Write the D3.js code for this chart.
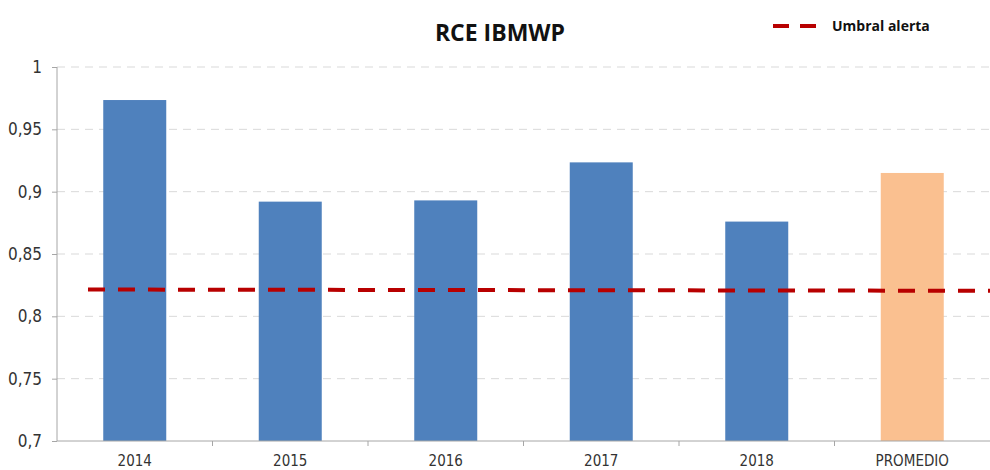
<!DOCTYPE html>
<html>
<head>
<meta charset="utf-8">
<script src="https://cdn.jsdelivr.net/npm/d3@7"></script>
<style>
body { margin: 0; background: #fff; }
</style>
</head>
<body>
<script>
var categories = ["2014", "2015", "2016", "2017", "2018", "PROMEDIO"];
var values = [0.9735, 0.892, 0.893, 0.9235, 0.876, 0.915];
var yTicks = [0.7, 0.75, 0.8, 0.85, 0.9, 0.95, 1];
var umbral = [0.8215, 0.8205]; // start, end of the alert line

var width = 990, height = 470;
var plotLeft = 57, plotRight = 990, plotTop = 67, plotBottom = 441;

var svg = d3.select("body")
            .append("svg")
            .attr("width", width)
            .attr("height", height);

var xb = d3.scaleBand().domain(categories).range([plotLeft, plotRight]);

var y = d3.scaleLinear().domain([0.7, 1]).range([plotBottom, plotTop]);

// gridlines
svg.selectAll("line.grid")
    .data(yTicks.slice(1))
    .enter()
    .append("line")
    .attr("class", "grid")
    .attr("x1", plotLeft)
    .attr("x2", plotRight)
    .attr("y1", function(d) { return y(d); })
    .attr("y2", function(d) { return y(d); })
    .attr("stroke", "#d9d9d9")
    .attr("stroke-width", 1)
    .attr("stroke-dasharray", "8,6");

// bars
svg.selectAll("rect")
    .data(values)
    .enter()
    .append("rect")
    .attr("x", function(d, i) { return xb(categories[i]) + xb.bandwidth() / 2 - 31.5; })
    .attr("width", 63)
    .attr("y", function(d) { return y(d); })
    .attr("height", function(d) { return plotBottom - y(d); })
    .attr("fill", function(d, i) { return categories[i] == "PROMEDIO" ? "#FAC090" : "#4F81BD"; });

// y axis
var yAxis = d3.axisLeft(y)
              .tickValues(yTicks)
              .tickSize(5)
              .tickFormat(function(d) { return String(+d.toFixed(2)).replace(".", ","); });
var gy = svg.append("g")
            .attr("transform", "translate(" + plotLeft + ",0)")
            .call(yAxis);
gy.selectAll("path, line").attr("stroke", "#a6a6a6");
gy.select(".domain").attr("d", "M0," + plotTop + "V" + plotBottom);
gy.selectAll("text")
    .attr("font-family", "'DejaVu Sans Condensed', 'DejaVu Sans', sans-serif")
    .attr("font-size", 17)
    .attr("fill", "#333")
    .attr("x", -15);

// x axis
var xAxis = d3.axisBottom(xb).tickSize(0);
var gx = svg.append("g")
            .attr("transform", "translate(0," + plotBottom + ")")
            .call(xAxis);
gx.select(".domain").attr("stroke", "#a6a6a6").attr("d", "M" + plotLeft + ",0H" + plotRight);
gx.selectAll("text")
    .attr("font-family", "'DejaVu Sans Condensed', 'DejaVu Sans', sans-serif")
    .attr("font-size", 15)
    .attr("fill", "#333")
    .attr("y", 25)
    .attr("dy", 0);

// boundary ticks between categories
svg.selectAll("line.sep")
    .data(categories.slice(1))
    .enter()
    .append("line")
    .attr("class", "sep")
    .attr("x1", function(d) { return xb(d); })
    .attr("x2", function(d) { return xb(d); })
    .attr("y1", plotBottom)
    .attr("y2", plotBottom + 5)
    .attr("stroke", "#a6a6a6");

// alert threshold line
svg.append("line")
    .attr("x1", 88)
    .attr("x2", plotRight)
    .attr("y1", y(umbral[0]))
    .attr("y2", y(umbral[1]))
    .attr("stroke", "#B80000")
    .attr("stroke-width", 4)
    .attr("stroke-dasharray", "17,13");

// title
svg.append("text")
    .attr("x", 500)
    .attr("y", 41)
    .attr("text-anchor", "middle")
    .attr("font-family", "'Open Sans', 'DejaVu Sans', sans-serif")
    .attr("font-weight", "bold")
    .attr("font-size", 23)
    .attr("fill", "#111")
    .text("RCE IBMWP");

// legend
svg.append("line")
    .attr("x1", 773)
    .attr("x2", 816)
    .attr("y1", 26)
    .attr("y2", 26)
    .attr("stroke", "#B80000")
    .attr("stroke-width", 4)
    .attr("stroke-dasharray", "16,11");
svg.append("text")
    .attr("x", 832)
    .attr("y", 31)
    .attr("font-family", "'Open Sans', 'DejaVu Sans', sans-serif")
    .attr("font-weight", "bold")
    .attr("font-size", 14)
    .attr("fill", "#111")
    .text("Umbral alerta");
</script>
</body>
</html>
